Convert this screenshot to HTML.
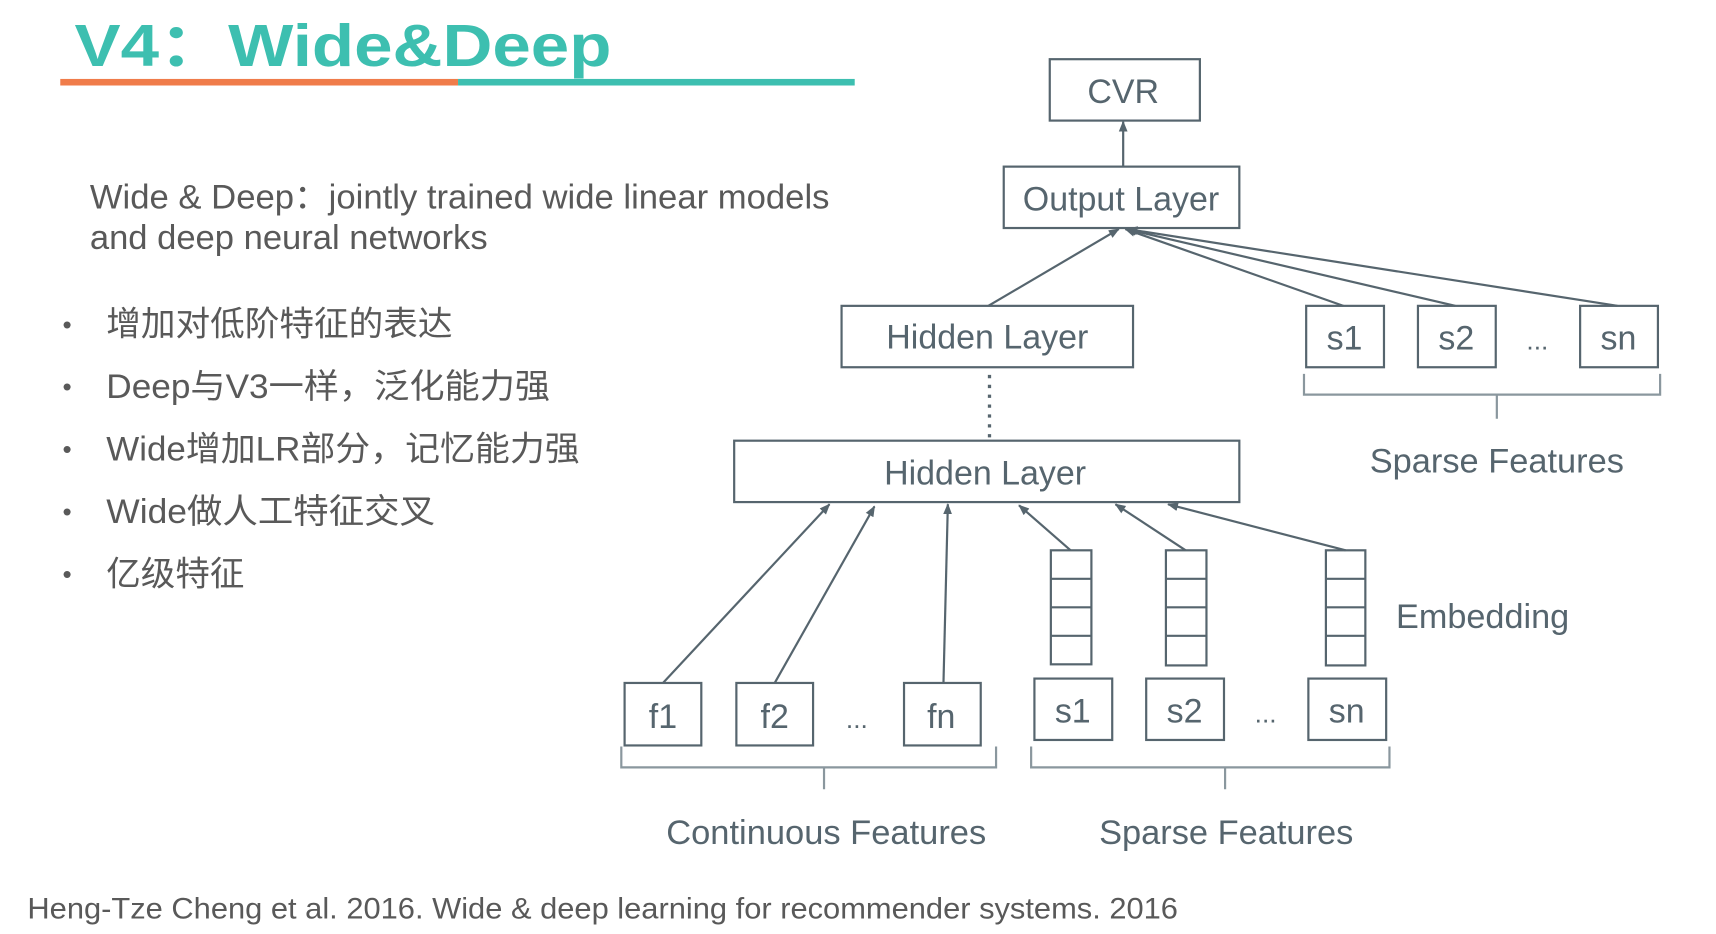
<!DOCTYPE html>
<html><head><meta charset="utf-8"><style>
html,body{margin:0;padding:0;background:#fff;}
svg{display:block;}
text{font-family:"Liberation Sans","Noto Sans CJK SC",sans-serif;}
</style></head><body>
<svg width="1716" height="934" viewBox="0 0 1566 852" preserveAspectRatio="none" xmlns="http://www.w3.org/2000/svg">
<defs>
<marker id="a" markerWidth="10" markerHeight="10" refX="9" refY="5" orient="auto" markerUnits="userSpaceOnUse">
<path d="M0,1 L10,5 L0,9 z" fill="#56656e"/>
</marker>
</defs>
<text x="68" y="60" font-size="54" font-weight="bold" fill="#3dbfb0" textLength="490" lengthAdjust="spacingAndGlyphs">V4：Wide&amp;Deep</text>
<rect x="55" y="72" width="363" height="6" fill="#f07c4a"/>
<rect x="418" y="72" width="362" height="6" fill="#3dbfb0"/>
<g fill="#595959" font-size="31">
<text x="82" y="190" textLength="675" lengthAdjust="spacingAndGlyphs">Wide &amp; Deep：jointly trained wide linear models</text>
<text x="82" y="227" textLength="363" lengthAdjust="spacingAndGlyphs">and deep neural networks</text>
<text x="57" y="304" font-size="24">•</text><text x="97" y="306" textLength="316" lengthAdjust="spacingAndGlyphs">增加对低阶特征的表达</text>
<text x="57" y="361" font-size="24">•</text><text x="97" y="363" textLength="405" lengthAdjust="spacingAndGlyphs">Deep与V3一样，泛化能力强</text>
<text x="57" y="418" font-size="24">•</text><text x="97" y="420" textLength="432" lengthAdjust="spacingAndGlyphs">Wide增加LR部分，记忆能力强</text>
<text x="57" y="475" font-size="24">•</text><text x="97" y="477" textLength="300" lengthAdjust="spacingAndGlyphs">Wide做人工特征交叉</text>
<text x="57" y="532" font-size="24">•</text><text x="97" y="534" textLength="126" lengthAdjust="spacingAndGlyphs">亿级特征</text>
<text x="25" y="838" font-size="27" textLength="1050" lengthAdjust="spacingAndGlyphs">Heng-Tze Cheng et al. 2016. Wide &amp; deep learning for recommender systems. 2016</text>
</g>
<g fill="none" stroke="#56656e" stroke-width="2">
<rect x="958" y="54" width="137" height="56"/>
<rect x="916" y="152" width="215" height="56"/>
<rect x="768" y="279" width="266" height="56"/>
<rect x="1192" y="279" width="71" height="56"/>
<rect x="1294" y="279" width="71" height="56"/>
<rect x="1442" y="279" width="71" height="56"/>
<rect x="670" y="402" width="461" height="56"/>
<rect x="570" y="623" width="70" height="57"/>
<rect x="672" y="623" width="70" height="57"/>
<rect x="825" y="623" width="70" height="57"/>
<rect x="944" y="619" width="71" height="56"/>
<rect x="1046" y="619" width="71" height="56"/>
<rect x="1194" y="619" width="71" height="56"/>
<g>
<rect x="959" y="502" width="37" height="104"/><path d="M959 528H996M959 554H996M959 580H996"/>
<rect x="1064" y="502" width="37" height="105"/><path d="M1064 528H1101M1064 554H1101M1064 580H1101"/>
<rect x="1210" y="502" width="36" height="105"/><path d="M1210 528H1246M1210 554H1246M1210 580H1246"/>
</g>
<g marker-end="url(#a)">
<line x1="1025" y1="152" x2="1025" y2="111"/>
<line x1="902" y1="279" x2="1021" y2="209"/>
<line x1="1226" y1="279" x2="1027" y2="209"/>
<line x1="1328" y1="279" x2="1028" y2="209"/>
<line x1="1476" y1="279" x2="1029" y2="209"/>
<line x1="605" y1="623" x2="757" y2="460"/>
<line x1="707" y1="623" x2="798" y2="462"/>
<line x1="861" y1="623" x2="865" y2="460"/>
<line x1="977" y1="502" x2="930" y2="461"/>
<line x1="1082" y1="502" x2="1018" y2="460"/>
<line x1="1228" y1="502" x2="1066" y2="460"/>
</g>
<line x1="903" y1="342" x2="903" y2="400" stroke-dasharray="3,6" stroke-width="3"/>
<path d="M1190 341 V360 H1515 V341 M1366 360 V382" stroke="#8a979e"/>
<path d="M567 681 V700 H909 V681 M752 700 V720" stroke="#8a979e"/>
<path d="M941 681 V700 H1268 V681 M1118 700 V720" stroke="#8a979e"/>
</g>
<g fill="#56656e" font-size="31" text-anchor="middle">
<text x="1025" y="94">CVR</text>
<text x="1023" y="192">Output Layer</text>
<text x="901" y="318">Hidden Layer</text>
<text x="1227" y="319">s1</text>
<text x="1329" y="319">s2</text>
<text x="1403" y="319" font-size="24">...</text>
<text x="1477" y="319">sn</text>
<text x="899" y="442">Hidden Layer</text>
<text x="605" y="664">f1</text>
<text x="707" y="664">f2</text>
<text x="782" y="664" font-size="24">...</text>
<text x="859" y="664">fn</text>
<text x="979" y="659">s1</text>
<text x="1081" y="659">s2</text>
<text x="1155" y="659" font-size="24">...</text>
<text x="1229" y="659">sn</text>
<text x="1366" y="431" textLength="232" lengthAdjust="spacingAndGlyphs">Sparse Features</text>
<text x="754" y="770" textLength="292" lengthAdjust="spacingAndGlyphs">Continuous Features</text>
<text x="1119" y="770" textLength="232" lengthAdjust="spacingAndGlyphs">Sparse Features</text>
<text x="1353" y="573" textLength="158" lengthAdjust="spacingAndGlyphs">Embedding</text>
</g>
</svg>
</body></html>
